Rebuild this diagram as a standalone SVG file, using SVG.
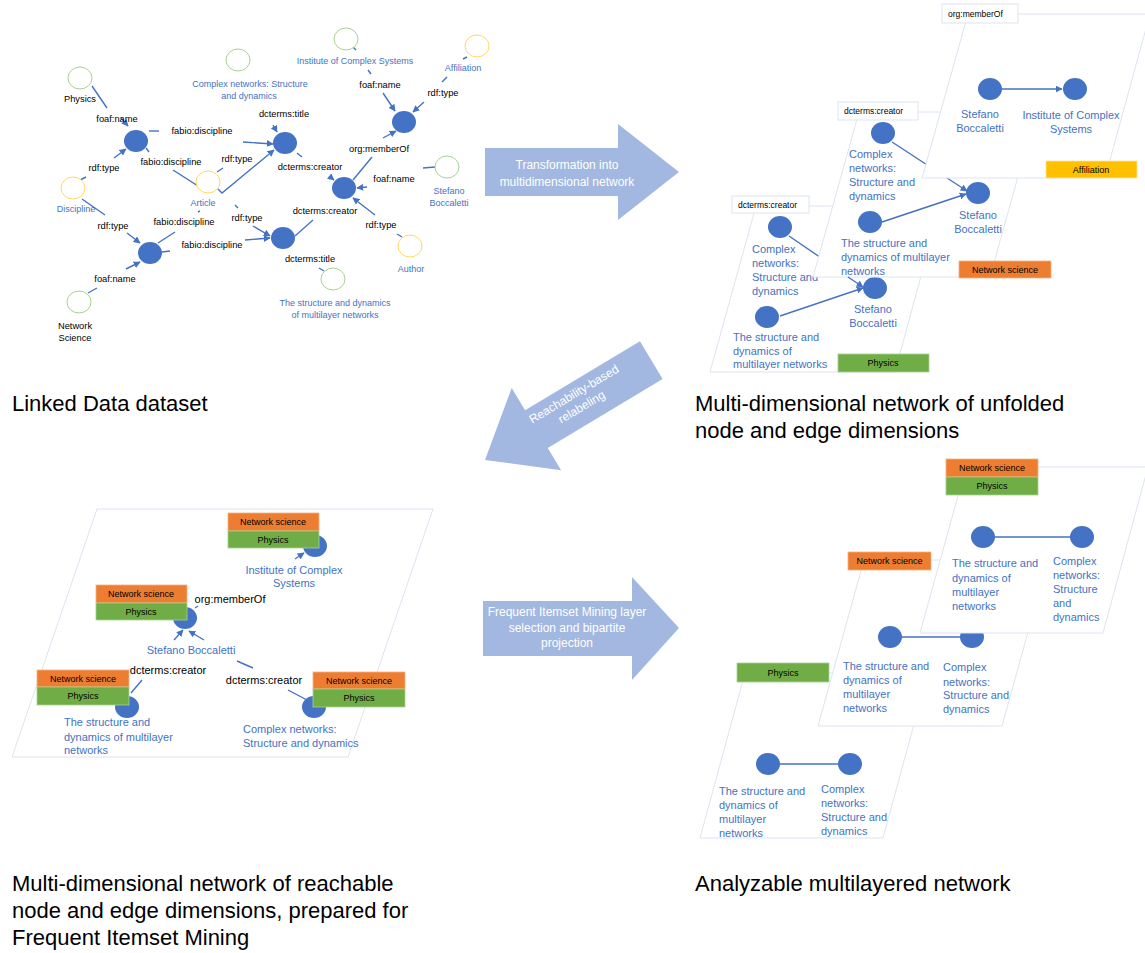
<svg xmlns="http://www.w3.org/2000/svg" width="1145" height="953" viewBox="0 0 1145 953">
  <defs>
    <marker id="ah" viewBox="0 0 10 10" refX="9" refY="5" markerWidth="5" markerHeight="5" orient="auto">
      <path d="M0,0 L10,5 L0,10 z" fill="#4472C4"/>
    </marker>
    <style>
      .e { stroke: #4472C4; stroke-width: 1.4; fill: none; }
      .ea { stroke: #4472C4; stroke-width: 1.4; fill: none; marker-end: url(#ah); }
      .nd { fill: #4472C4; }
      .og { fill: #fff; stroke: #A9D18E; stroke-width: 1; }
      .oy { fill: #fff; stroke: #FFD966; stroke-width: 1; }
      .lbl { font-family: "Liberation Sans", Arial, sans-serif; font-size: 9.3px; fill: #000; text-anchor: middle; }
      .bl { font-family: "Liberation Sans", Arial, sans-serif; font-size: 9px; fill: #4472C4; text-anchor: middle; }
      .bt { font-family: "Liberation Sans", Arial, sans-serif; font-size: 11px; fill: #4472C4; }
      .btm { font-family: "Liberation Sans", Arial, sans-serif; font-size: 11px; fill: #4472C4; text-anchor: middle; }
      .bk { font-family: "Liberation Sans", Arial, sans-serif; font-size: 11px; fill: #000; text-anchor: middle; }
      .layer { fill: #fff; stroke: #DDE4F0; stroke-width: 1; }
      .tag { fill: #fff; stroke: #DDE4F0; stroke-width: 1; }
      .tagt { font-family: "Liberation Sans", Arial, sans-serif; font-size: 8.5px; fill: #000; }
      .box { font-family: "Liberation Sans", Arial, sans-serif; font-size: 9px; fill: #000; text-anchor: middle; }
      .ns { fill: #ED7D31; stroke: #F4B183; stroke-width: 0.8; }
      .ph { fill: #70AD47; stroke: #A9D18E; stroke-width: 0.8; }
      .af { fill: #FFC000; stroke: #FFE699; stroke-width: 0.8; }
      .big { fill: #A3B8E0; }
      .bigt { font-family: "Liberation Sans", Arial, sans-serif; font-size: 12px; fill: #fff; text-anchor: middle; }
      .title { font-family: "Liberation Sans", Arial, sans-serif; font-size: 22px; fill: #000; }
    </style>
  </defs>

  <!-- ============ Linked Data dataset ============ -->
  <g id="ld-connectors">
    <line class="e" x1="92" y1="86" x2="107" y2="108"/>
    <line class="ea" x1="121" y1="118" x2="128" y2="126"/>
    <line class="e" x1="149" y1="131" x2="159" y2="131"/>
    <line class="ea" x1="243" y1="142" x2="273" y2="144"/>
    <line class="e" x1="146" y1="148" x2="149" y2="152"/>
    <line class="e" x1="173" y1="170" x2="198" y2="186"/>
    <line class="e" x1="217" y1="172" x2="223" y2="168"/>
    <polyline class="ea" points="218,189 222,193 274,150"/>
    <line class="e" x1="80" y1="180" x2="86" y2="177"/>
    <line class="ea" x1="114" y1="158" x2="126" y2="149"/>
    <line class="e" x1="82" y1="199" x2="105" y2="215"/>
    <line class="ea" x1="127" y1="233" x2="140" y2="243"/>
    <line class="e" x1="158" y1="243" x2="175" y2="232"/>
    <line class="e" x1="162" y1="252" x2="170" y2="251"/>
    <line class="ea" x1="245" y1="240" x2="270" y2="238"/>
    <line class="e" x1="235" y1="205" x2="238" y2="208"/>
    <line class="ea" x1="253" y1="226" x2="270" y2="236"/>
    <line class="ea" x1="126" y1="269" x2="140" y2="262"/>
    <line class="e" x1="88" y1="293" x2="97" y2="288"/>
    <line class="e" x1="198" y1="212" x2="200" y2="211"/>
    <line class="e" x1="353" y1="47" x2="356" y2="50"/>
    <line class="e" x1="368" y1="70" x2="371" y2="74"/>
    <line class="ea" x1="383" y1="93" x2="395" y2="111"/>
    <line class="e" x1="467" y1="57" x2="463" y2="59"/>
    <line class="e" x1="447" y1="77" x2="442" y2="82"/>
    <line class="ea" x1="424" y1="102" x2="413" y2="112"/>
    <line class="ea" x1="383" y1="138" x2="396" y2="131"/>
    <line class="e" x1="372" y1="157" x2="353" y2="180"/>
    <line class="ea" x1="329" y1="176" x2="334" y2="180"/>
    <line class="ea" x1="367" y1="187" x2="357" y2="188"/>
    <line class="e" x1="435" y1="167" x2="423" y2="168"/>
    <line class="ea" x1="273" y1="125" x2="277" y2="132"/>
    <line class="e" x1="297" y1="153" x2="302" y2="157"/>
    <line class="e" x1="313" y1="220" x2="295" y2="236"/>
    <line class="ea" x1="375" y1="215" x2="353" y2="198"/>
    <line class="e" x1="397" y1="234" x2="402" y2="237"/>
    <line class="e" x1="319" y1="268" x2="324" y2="271"/>
  </g>

  <g id="ld-physics"><ellipse class="og" cx="80" cy="78" rx="12" ry="11"/><text class="lbl" x="80" y="102">Physics</text></g>
  <g id="ld-complex"><ellipse class="og" cx="238" cy="60" rx="12" ry="11"/><text class="bl" x="250" y="87">Complex networks: Structure</text><text class="bl" x="249" y="99">and dynamics</text></g>
  <g id="ld-institute"><ellipse class="og" cx="346" cy="39" rx="12" ry="11"/><text class="bl" x="355" y="64">Institute of Complex Systems</text></g>
  <g id="ld-affiliation"><ellipse class="oy" cx="477" cy="46" rx="12" ry="11"/><text class="bl" x="463" y="71">Affiliation</text></g>
  <g id="ld-discipline"><ellipse class="oy" cx="73" cy="188" rx="12" ry="11"/><text class="bl" x="76" y="212">Discipline</text></g>
  <g id="ld-article"><ellipse class="oy" cx="208" cy="182" rx="12" ry="11"/><text class="bl" x="203" y="206">Article</text></g>
  <g id="ld-stefano"><ellipse class="og" cx="447" cy="167" rx="12" ry="11"/><text class="bl" x="449" y="194">Stefano</text><text class="bl" x="449" y="206">Boccaletti</text></g>
  <g id="ld-author"><ellipse class="oy" cx="410" cy="246" rx="12" ry="11"/><text class="bl" x="411" y="272">Author</text></g>
  <g id="ld-netsci"><ellipse class="og" cx="79" cy="302" rx="12" ry="11"/><text class="lbl" x="75" y="329">Network</text><text class="lbl" x="75" y="341">Science</text></g>
  <g id="ld-multilayer"><ellipse class="og" cx="333" cy="279" rx="12" ry="11"/><text class="bl" x="335" y="306">The structure and dynamics</text><text class="bl" x="335" y="318">of multilayer networks</text></g>

  <g id="ld-n-disc1"><ellipse class="nd" cx="136" cy="141" rx="12" ry="11"/></g>
  <g id="ld-n-art1"><ellipse class="nd" cx="285" cy="143" rx="12" ry="11"/></g>
  <g id="ld-n-inst"><ellipse class="nd" cx="404" cy="122" rx="12" ry="11"/></g>
  <g id="ld-n-auth"><ellipse class="nd" cx="344" cy="188" rx="12" ry="11"/></g>
  <g id="ld-n-disc2"><ellipse class="nd" cx="150" cy="253" rx="12" ry="11"/></g>
  <g id="ld-n-art2"><ellipse class="nd" cx="283" cy="238" rx="12" ry="11"/></g>

  <g id="ld-edge-labels">
    <text class="lbl" x="117" y="122">foaf:name</text>
    <text class="lbl" x="202" y="134">fabio:discipline</text>
    <text class="lbl" x="284" y="117">dcterms:title</text>
    <text class="lbl" x="380" y="88">foaf:name</text>
    <text class="lbl" x="443" y="96">rdf:type</text>
    <text class="lbl" x="379" y="152">org:memberOf</text>
    <text class="lbl" x="171" y="165">fabio:discipline</text>
    <text class="lbl" x="237" y="162">rdf:type</text>
    <text class="lbl" x="310" y="170">dcterms:creator</text>
    <text class="lbl" x="394" y="182">foaf:name</text>
    <text class="lbl" x="104" y="171">rdf:type</text>
    <text class="lbl" x="113" y="229">rdf:type</text>
    <text class="lbl" x="184" y="225">fabio:discipline</text>
    <text class="lbl" x="212" y="248">fabio:discipline</text>
    <text class="lbl" x="247" y="221">rdf:type</text>
    <text class="lbl" x="325" y="214">dcterms:creator</text>
    <text class="lbl" x="381" y="228">rdf:type</text>
    <text class="lbl" x="310" y="262">dcterms:title</text>
    <text class="lbl" x="115" y="282">foaf:name</text>
  </g>

  <!-- ============ Big transition arrows ============ -->
  <g id="arrow-transform">
    <polygon class="big" points="485,148 618,148 618,124 679,172 618,220 618,196 485,196"/>
    <text class="bigt" x="567" y="169">Transformation into</text>
    <text class="bigt" x="567" y="186">multidimensional network</text>
  </g>
  <g id="arrow-relabel">
    <polygon class="big" transform="translate(485,460) rotate(-31)" points="0,0 60,-48 60,-22 194,-22 194,22 60,22 60,48"/>
    <g transform="translate(578,401) rotate(-31)">
      <text class="bigt" x="0" y="-4">Reachability-based</text>
      <text class="bigt" x="0" y="11">relabeling</text>
    </g>
  </g>
  <g id="arrow-fim">
    <polygon class="big" points="483,601 632,601 632,577 679,628 632,680 632,656 483,656"/>
    <text class="bigt" x="567" y="616">Frequent Itemset Mining layer</text>
    <text class="bigt" x="567" y="632">selection and bipartite</text>
    <text class="bigt" x="567" y="647">projection</text>
  </g>

  <!-- ============ Multi-dimensional network (unfolded) ============ -->
  <g id="md-layer-creator-physics">
    <polygon class="layer" points="756,206 940,206 895,372 710,372"/>
    <line class="e" x1="789" y1="236" x2="830" y2="264"/>
    <ellipse class="nd" cx="780" cy="227" rx="12" ry="11"/>
    <line class="ea" x1="780" y1="316" x2="863" y2="288"/>
    <ellipse class="nd" cx="767" cy="317" rx="12" ry="11"/>
    <ellipse class="nd" cx="875" cy="288" rx="12" ry="11"/>
    <text class="bt" x="752" y="253">Complex</text>
    <text class="bt" x="752" y="267">networks:</text>
    <text class="bt" x="752" y="281">Structure and</text>
    <text class="bt" x="752" y="295">dynamics</text>
    <text class="btm" x="873" y="313">Stefano</text>
    <text class="btm" x="873" y="327">Boccaletti</text>
    <text class="bt" x="733" y="341">The structure and</text>
    <text class="bt" x="733" y="355">dynamics of</text>
    <text class="bt" x="733" y="368">multilayer networks</text>
    <rect class="tag" x="732" y="196" width="77" height="17"/>
    <text class="tagt" x="738" y="208">dcterms:creator</text>
    <rect class="ph" x="838" y="354" width="91" height="18"/>
    <text class="box" x="883" y="366">Physics</text>
  </g>
  <g id="md-layer-creator-netsci">
    <polygon class="layer" points="859,112 1036,112 990,277 813,277"/>
    <line class="ea" x1="848" y1="277" x2="863" y2="287"/>
    <line class="ea" x1="892" y1="142" x2="967" y2="191"/>
    <ellipse class="nd" cx="883" cy="133" rx="12" ry="11"/>
    <line class="ea" x1="882" y1="222" x2="966" y2="194"/>
    <ellipse class="nd" cx="870" cy="222" rx="12" ry="11"/>
    <ellipse class="nd" cx="978" cy="193" rx="12" ry="11"/>
    <text class="bt" x="849" y="158">Complex</text>
    <text class="bt" x="849" y="172">networks:</text>
    <text class="bt" x="849" y="186">Structure and</text>
    <text class="bt" x="849" y="200">dynamics</text>
    <text class="btm" x="978" y="219">Stefano</text>
    <text class="btm" x="978" y="233">Boccaletti</text>
    <text class="bt" x="841" y="247">The structure and</text>
    <text class="bt" x="841" y="261">dynamics of multilayer</text>
    <text class="bt" x="841" y="275">networks</text>
    <rect class="tag" x="838" y="102" width="80" height="18"/>
    <text class="tagt" x="844" y="114">dcterms:creator</text>
    <rect class="ns" x="959" y="261" width="92" height="17"/>
    <text class="box" x="1005" y="272.5">Network science</text>
  </g>
  <g id="md-layer-memberof">
    <polygon class="layer" points="968,14 1150,14 1105,178 922,178"/>
    <line class="ea" x1="1002" y1="89" x2="1062" y2="89"/>
    <ellipse class="nd" cx="990" cy="89" rx="12" ry="11"/>
    <ellipse class="nd" cx="1075" cy="89" rx="12" ry="11"/>
    <text class="btm" x="980" y="118">Stefano</text>
    <text class="btm" x="980" y="132">Boccaletti</text>
    <text class="btm" x="1071" y="119">Institute of Complex</text>
    <text class="btm" x="1071" y="133">Systems</text>
    <rect class="tag" x="942" y="4" width="76" height="19"/>
    <text class="tagt" x="948" y="17">org:memberOf</text>
    <rect class="af" x="1046" y="161" width="91" height="17"/>
    <text class="box" x="1091" y="172.5">Affiliation</text>
  </g>

  <!-- ============ Reachable dimensions for FIM ============ -->
  <g id="fim-plane">
    <polygon class="layer" points="97,509 433,509 348,757 12,757"/>
  </g>
  <g id="fim-connectors">
    <line class="ea" x1="295" y1="559" x2="304" y2="553"/>
    <line class="e" x1="195" y1="608" x2="198" y2="606"/>
    <line class="ea" x1="174" y1="640" x2="183" y2="630"/>
    <line class="ea" x1="204" y1="640" x2="189" y2="631"/>
    <line class="e" x1="237" y1="661" x2="253" y2="668"/>
    <line class="e" x1="288" y1="690" x2="307" y2="700"/>
    <line class="e" x1="142" y1="680" x2="131" y2="693"/>
    <text class="bk" x="230" y="603">org:memberOf</text>
    <text class="bk" x="168" y="674">dcterms:creator</text>
    <text class="bk" x="264" y="684">dcterms:creator</text>
  </g>
  <g id="fim-institute">
    <ellipse class="nd" cx="315" cy="546" rx="12" ry="11"/>
    <rect class="ns" x="228" y="513" width="91" height="18"/>
    <text class="box" x="273" y="525">Network science</text>
    <rect class="ph" x="228" y="531" width="91" height="17"/>
    <text class="box" x="273" y="542.5">Physics</text>
    <text class="btm" x="294" y="574">Institute of Complex</text>
    <text class="btm" x="294" y="587">Systems</text>
  </g>
  <g id="fim-stefano">
    <ellipse class="nd" cx="185" cy="618" rx="12" ry="11"/>
    <rect class="ns" x="96" y="585" width="91" height="18"/>
    <text class="box" x="141" y="597">Network science</text>
    <rect class="ph" x="96" y="603" width="91" height="17"/>
    <text class="box" x="141" y="614.5">Physics</text>
    <text class="btm" x="191" y="654">Stefano Boccaletti</text>
  </g>
  <g id="fim-multilayer">
    <ellipse class="nd" cx="127" cy="707" rx="12" ry="11"/>
    <rect class="ns" x="37" y="670" width="92" height="17"/>
    <text class="box" x="83" y="681.5">Network science</text>
    <rect class="ph" x="37" y="687" width="92" height="18"/>
    <text class="box" x="83" y="699">Physics</text>
    <text class="bt" x="64" y="726">The structure and</text>
    <text class="bt" x="64" y="741">dynamics of multilayer</text>
    <text class="bt" x="64" y="754">networks</text>
  </g>
  <g id="fim-complex">
    <ellipse class="nd" cx="314" cy="707" rx="12" ry="11"/>
    <rect class="ns" x="313" y="672" width="92" height="17"/>
    <text class="box" x="359" y="683.5">Network science</text>
    <rect class="ph" x="313" y="689" width="92" height="18"/>
    <text class="box" x="359" y="701">Physics</text>
    <text class="bt" x="243" y="733">Complex networks:</text>
    <text class="bt" x="243" y="747">Structure and dynamics</text>
  </g>

  <!-- ============ Analyzable multilayered network ============ -->
  <g id="ml-layer-physics">
    <polygon class="layer" points="745,673 928,673 883,838 700,838"/>
    <line class="e" x1="768" y1="764" x2="850" y2="764"/>
    <ellipse class="nd" cx="768" cy="764" rx="12" ry="11"/>
    <ellipse class="nd" cx="850" cy="764" rx="12" ry="11"/>
    <text class="bt" x="719" y="795">The structure and</text>
    <text class="bt" x="719" y="809">dynamics of</text>
    <text class="bt" x="719" y="823">multilayer</text>
    <text class="bt" x="719" y="837">networks</text>
    <text class="bt" x="821" y="793">Complex</text>
    <text class="bt" x="821" y="807">networks:</text>
    <text class="bt" x="821" y="821">Structure and</text>
    <text class="bt" x="821" y="835">dynamics</text>
    <rect class="ph" x="737" y="663" width="92" height="19"/>
    <text class="box" x="783" y="675.5">Physics</text>
  </g>
  <g id="ml-layer-netsci">
    <polygon class="layer" points="864,560 1048,560 1002,726 818,726"/>
    <line class="e" x1="890" y1="637" x2="972" y2="637"/>
    <ellipse class="nd" cx="890" cy="637" rx="12" ry="11"/>
    <ellipse class="nd" cx="972" cy="637" rx="12" ry="11"/>
    <text class="bt" x="843" y="670">The structure and</text>
    <text class="bt" x="843" y="684">dynamics of</text>
    <text class="bt" x="843" y="698">multilayer</text>
    <text class="bt" x="843" y="712">networks</text>
    <text class="bt" x="943" y="671">Complex</text>
    <text class="bt" x="943" y="686">networks:</text>
    <text class="bt" x="943" y="699">Structure and</text>
    <text class="bt" x="943" y="713">dynamics</text>
    <rect class="ns" x="848" y="552" width="83" height="18"/>
    <text class="box" x="889.5" y="564">Network science</text>
  </g>
  <g id="ml-layer-both">
    <polygon class="layer" points="966,467 1148,467 1103,633 920,633"/>
    <line class="e" x1="983" y1="537" x2="1082" y2="537"/>
    <ellipse class="nd" cx="983" cy="537" rx="12" ry="11"/>
    <ellipse class="nd" cx="1082" cy="537" rx="12" ry="11"/>
    <text class="bt" x="952" y="567">The structure and</text>
    <text class="bt" x="952" y="582">dynamics of</text>
    <text class="bt" x="952" y="596">multilayer</text>
    <text class="bt" x="952" y="610">networks</text>
    <text class="bt" x="1053" y="565">Complex</text>
    <text class="bt" x="1053" y="579">networks:</text>
    <text class="bt" x="1053" y="593">Structure</text>
    <text class="bt" x="1053" y="607">and</text>
    <text class="bt" x="1053" y="621">dynamics</text>
    <rect class="ns" x="946" y="459" width="92" height="18"/>
    <text class="box" x="992" y="471">Network science</text>
    <rect class="ph" x="946" y="477" width="92" height="18"/>
    <text class="box" x="992" y="489">Physics</text>
  </g>

  <!-- ============ Panel captions ============ -->
  <g id="captions">
    <text class="title" x="12" y="411">Linked Data dataset</text>
    <text class="title" x="695" y="411">Multi-dimensional network of unfolded</text>
    <text class="title" x="695" y="438">node and edge dimensions</text>
    <text class="title" x="12" y="891">Multi-dimensional network of reachable</text>
    <text class="title" x="12" y="918">node and edge dimensions, prepared for</text>
    <text class="title" x="12" y="945">Frequent Itemset Mining</text>
    <text class="title" x="695" y="891">Analyzable multilayered network</text>
  </g>
</svg>
